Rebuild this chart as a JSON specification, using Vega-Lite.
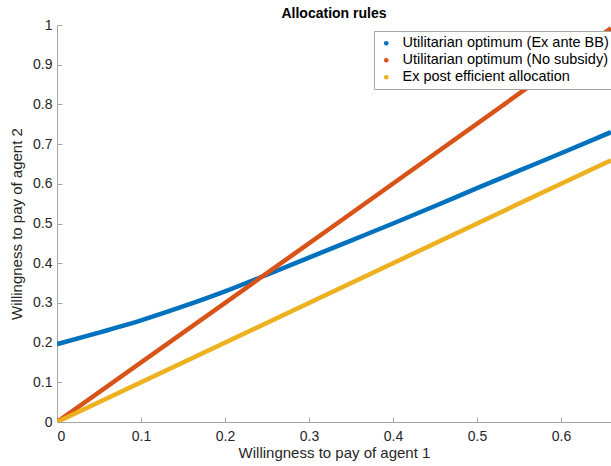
{
  "$schema": "https://vega.github.io/schema/vega-lite/v6.json",
  "width": 554,
  "height": 397,
  "autosize": {"type": "none"},
  "padding": {"left": 57, "top": 25, "right": 0, "bottom": 44},
  "background": "white",
  "title": {
    "text": "Allocation rules",
    "font": "Liberation Sans",
    "fontSize": 14,
    "fontWeight": "bold",
    "color": "#000000",
    "anchor": "middle",
    "offset": -3
  },
  "config": {
    "view": {"stroke": null},
    "font": "Liberation Sans",
    "axis": {
      "grid": false,
      "domainColor": "#a6a6a6",
      "tickColor": "#a6a6a6",
      "tickSize": -5,
      "labelFont": "Liberation Sans",
      "labelFontSize": 14,
      "labelColor": "#262626",
      "titleFont": "Liberation Sans",
      "titleFontSize": 15,
      "titleFontWeight": "normal",
      "titleColor": "#262626"
    }
  },
  "data": {
    "values": [
      {"x": 0.0, "y": 0.196, "series": "Utilitarian optimum (Ex ante BB)"},
      {"x": 0.05, "y": 0.225, "series": "Utilitarian optimum (Ex ante BB)"},
      {"x": 0.1, "y": 0.256, "series": "Utilitarian optimum (Ex ante BB)"},
      {"x": 0.15, "y": 0.291, "series": "Utilitarian optimum (Ex ante BB)"},
      {"x": 0.2, "y": 0.329, "series": "Utilitarian optimum (Ex ante BB)"},
      {"x": 0.25, "y": 0.371, "series": "Utilitarian optimum (Ex ante BB)"},
      {"x": 0.3, "y": 0.414, "series": "Utilitarian optimum (Ex ante BB)"},
      {"x": 0.35, "y": 0.457, "series": "Utilitarian optimum (Ex ante BB)"},
      {"x": 0.4, "y": 0.5, "series": "Utilitarian optimum (Ex ante BB)"},
      {"x": 0.45, "y": 0.544, "series": "Utilitarian optimum (Ex ante BB)"},
      {"x": 0.5, "y": 0.589, "series": "Utilitarian optimum (Ex ante BB)"},
      {"x": 0.55, "y": 0.633, "series": "Utilitarian optimum (Ex ante BB)"},
      {"x": 0.6, "y": 0.677, "series": "Utilitarian optimum (Ex ante BB)"},
      {"x": 0.6595, "y": 0.73, "series": "Utilitarian optimum (Ex ante BB)"},
      {"x": 0.0, "y": 0.0, "series": "Utilitarian optimum (No subsidy)"},
      {"x": 0.3333, "y": 0.5, "series": "Utilitarian optimum (No subsidy)"},
      {"x": 0.6595, "y": 0.992, "series": "Utilitarian optimum (No subsidy)"},
      {"x": 0.0, "y": 0.0, "series": "Ex post efficient allocation"},
      {"x": 0.6595, "y": 0.6595, "series": "Ex post efficient allocation"}
    ]
  },
  "mark": {"type": "line", "strokeWidth": 4.5, "clip": true, "interpolate": "monotone"},
  "encoding": {
    "x": {
      "field": "x",
      "type": "quantitative",
      "scale": {"domain": [0, 0.6595], "nice": false, "zero": false},
      "axis": {
        "title": "Willingness to pay of agent 1",
        "values": [0, 0.1, 0.2, 0.3, 0.4, 0.5, 0.6],
        "format": ".1~f",
        "labelPadding": 12,
        "titlePadding": 2
      }
    },
    "y": {
      "field": "y",
      "type": "quantitative",
      "scale": {"domain": [0, 1], "nice": false},
      "axis": {
        "title": "Willingness to pay of agent 2",
        "values": [0, 0.1, 0.2, 0.3, 0.4, 0.5, 0.6, 0.7, 0.8, 0.9, 1],
        "format": ".1~f",
        "labelPadding": 10,
        "titlePadding": 8
      }
    },
    "color": {
      "field": "series",
      "type": "nominal",
      "sort": null,
      "scale": {
        "domain": ["Utilitarian optimum (Ex ante BB)", "Utilitarian optimum (No subsidy)", "Ex post efficient allocation"],
        "range": ["#0072BD", "#D95319", "#EDB120"]
      },
      "legend": {
        "title": null,
        "orient": "none",
        "legendX": 317,
        "legendY": 6,
        "symbolType": "circle",
        "symbolSize": 5,
        "symbolStrokeWidth": 2.5,
        "labelFont": "Liberation Sans",
        "labelFontSize": 14.5,
        "labelColor": "#000000",
        "labelLimit": 0,
        "rowPadding": 2,
        "padding": 5,
        "strokeColor": "#a6a6a6",
        "fillColor": "white",
        "cornerRadius": 0,
        "labelOffset": 9
      }
    }
  }
}
